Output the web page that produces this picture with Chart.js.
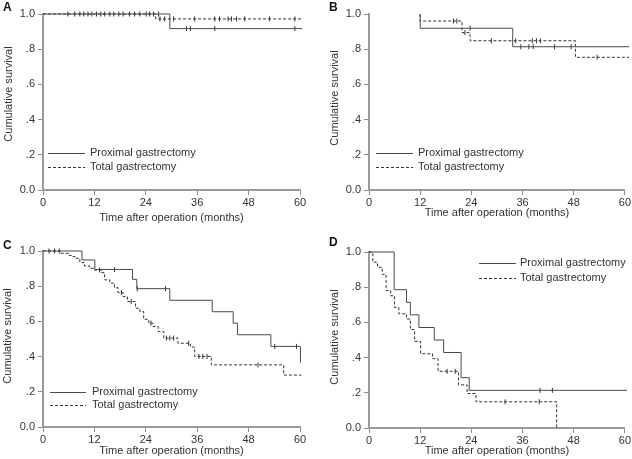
<!DOCTYPE html>
<html>
<head>
<meta charset="utf-8">
<script src="https://cdn.jsdelivr.net/npm/chart.js@4.4.1/dist/chart.umd.min.js"></script>
<style>
  html, body { margin: 0; padding: 0; background: #fff; }
  #wrap { position: relative; width: 632px; height: 459px; overflow: hidden; }
  canvas { position: absolute; }
</style>
</head>
<body>
<div id="wrap">
  <canvas id="cA" width="316" height="230" style="left:0;top:0"></canvas>
  <canvas id="cB" width="316" height="230" style="left:316px;top:0"></canvas>
  <canvas id="cC" width="316" height="229" style="left:0;top:230px"></canvas>
  <canvas id="cD" width="316" height="229" style="left:316px;top:230px"></canvas>
</div>
<script>
// Akselit ja selitteet
const seriesNames = ['Proximal gastrectomy', 'Total gastrectomy'];
const xTitle = 'Time after operation (months)';
const yTitle = 'Cumulative survival';
const xTickValues = [0, 12, 24, 36, 48, 60];
const yTickValues = [0, 0.2, 0.4, 0.6, 0.8, 1.0];
const yTickLabels = ['0.0', '.2', '.4', '.6', '.8', '1.0'];

// Paneeli A
const aProxTime = [0, 29.6, 60.5];
const aProxSurv = [1, 0.917, 0.917];
const aProxCensor = [27.0, 33.5, 34.4, 40.1, 58.8];
const aTotTime = [0, 26.3, 60.5];
const aTotSurv = [1, 0.972, 0.972];
const aTotCensor = [5.8, 7.4, 8.6, 9.5, 10.5, 11.4, 12.5, 13.5, 14.4, 15.6, 16.5, 17.7, 18.7, 20.2, 21.4, 22.6, 24.1, 24.9, 25.8,
  27.3, 28.4, 30.5, 35.4, 40.1, 41.2, 43.2, 44.0, 45.2, 47.1, 52.9, 58.8];

// Paneeli B
const bProxTime = [12, 12, 33.7, 61];
const bProxSurv = [1, 0.919, 0.814, 0.814];
const bProxCensor = [23.7, 35.6, 37.5, 38.5, 43.5, 47.4];
const bTotTime = [12, 12, 21.8, 23.7, 48.4, 61];
const bTotSurv = [1, 0.96, 0.894, 0.848, 0.754, 0.754];
const bTotCensor = [19.8, 20.6, 22.5, 28.7, 34.4, 38.3, 39.3, 40.2, 53.5];

// Paneeli C
const cProxTime = [0, 9.1, 12.1, 20.9, 21.9, 29.6, 39.5, 44.4, 45.4, 53.2, 60.1, 60.7];
const cProxSurv = [1, 0.949, 0.895, 0.839, 0.786, 0.72, 0.655, 0.59, 0.524, 0.458, 0.366, 0.366];
const cProxCensor = [16.7, 22.0, 28.6, 54.1, 59.2];
const cTotTime = [0, 4.1, 6.1, 7.0, 7.8, 8.6, 9.7, 10.9, 11.9, 13.6, 14.4, 15.6, 16.7, 17.5, 18.7, 19.7,
  21.6, 22.6, 23.5, 24.7, 25.7, 26.9, 28.2, 31.5, 34.4, 35.4, 39.3, 56.2, 60.3];
const cTotSurv = [1, 0.987, 0.975, 0.968, 0.958, 0.934, 0.915, 0.902, 0.892, 0.877, 0.836, 0.817, 0.792, 0.764, 0.741, 0.713,
  0.675, 0.656, 0.612, 0.590, 0.571, 0.542, 0.505, 0.476, 0.454, 0.401, 0.353, 0.295, 0.295];
const cTotCensor = [1.4, 2.7, 3.8, 13.2, 18.3, 20.6, 25.2, 28.8, 29.6, 30.5, 34.0, 36.4, 37.3, 38.3, 50.2];

// Paneeli D
const dProxTime = [0, 5.9, 8.8, 9.7, 11.7, 15.3, 17.5, 21.6, 23.5, 60.5];
const dProxSurv = [1, 0.786, 0.714, 0.643, 0.571, 0.5, 0.429, 0.286, 0.214, 0.214];
const dProxCensor = [40.1, 43.0];
const dTotTime = [0, 0.9, 2.0, 3.1, 4.0, 5.1, 6.0, 7.0, 8.8, 9.7, 10.7, 12.1, 14.9, 16.2, 21.0, 23.0, 25.1, 44.0];
const dTotSurv = [1, 0.942, 0.913, 0.873, 0.781, 0.751, 0.685, 0.649, 0.619, 0.559, 0.492, 0.422, 0.394, 0.322, 0.245, 0.196, 0.149, 0];
const dTotCensor = [18.3, 20.2, 31.9, 39.9];

const fontFam = '"Liberation Sans", Arial, Helvetica, sans-serif';
Chart.defaults.font.family = fontFam;
Chart.defaults.font.size = 11;
Chart.defaults.color = '#333';

const lineStyles = [
  { color: '#4a4a4a', dash: [] },
  { color: '#333333', dash: [3, 2] }
];

// Haetaan käyrän arvo sensurointihetkellä
function survAt(times, surv, t) {
  let s = surv[0];
  for (let i = 0; i < times.length; i++) {
    if (times[i] <= t) s = surv[i];
  }
  return s;
}

// Paneelin kirjain, y-akselin otsikko ja selite
const panelDecor = {
  id: 'panelDecor',
  afterDraw(chart, args, o) {
    const ctx = chart.ctx;
    ctx.save();
    ctx.fillStyle = '#111';
    ctx.font = 'bold 12px ' + fontFam;
    ctx.textBaseline = 'top';
    ctx.textAlign = 'left';
    ctx.fillText(o.letter, o.letterX, o.letterY);

    ctx.fillStyle = '#333';
    ctx.font = '11px ' + fontFam;
    ctx.save();
    ctx.translate(o.yTitleX, o.yTitleY);
    ctx.rotate(-Math.PI / 2);
    ctx.textAlign = 'center';
    ctx.textBaseline = 'middle';
    ctx.fillText(yTitle, 0, 0);
    ctx.restore();

    ctx.textBaseline = 'middle';
    seriesNames.forEach((name, i) => {
      const y = o.legY[i];
      ctx.strokeStyle = lineStyles[i].color;
      ctx.lineWidth = 1;
      ctx.setLineDash(lineStyles[i].dash);
      ctx.beginPath();
      ctx.moveTo(o.legX0, y + 0.5);
      ctx.lineTo(o.legX1, y + 0.5);
      ctx.stroke();
      ctx.setLineDash([]);
      ctx.fillStyle = '#333';
      ctx.fillText(name, o.legTextX, y);
    });
    ctx.restore();
  }
};

function makePanel(id, curves, p) {
  const canvas = document.getElementById(id);
  const W = canvas.width, H = canvas.height;
  const datasets = [];
  curves.forEach((c, i) => {
    const st = lineStyles[i];
    datasets.push({
      label: seriesNames[i],
      data: c.time.map((t, k) => ({ x: t, y: c.surv[k] })),
      stepped: true,
      borderColor: st.color,
      borderWidth: 1,
      borderDash: st.dash,
      pointRadius: 0,
      fill: false,
      clip: false
    });
    datasets.push({
      label: seriesNames[i] + ' censored',
      data: c.censor.map(t => ({ x: t, y: survAt(c.time, c.surv, t) })),
      showLine: false,
      pointStyle: 'line',
      pointRotation: 90,
      pointRadius: 2.5,
      pointBorderColor: '#333',
      pointBorderWidth: 1,
      clip: false
    });
  });

  return new Chart(canvas, {
    type: 'line',
    data: { datasets },
    plugins: [panelDecor],
    options: {
      responsive: false,
      animation: false,
      events: [],
      layout: { padding: { left: 0, top: p.top, right: W - p.right, bottom: 0 } },
      plugins: {
        legend: { display: false },
        tooltip: { enabled: false },
        panelDecor: p.decor
      },
      scales: {
        x: {
          type: 'linear',
          min: 0,
          max: 60,
          afterBuildTicks: s => { s.ticks = xTickValues.map(v => ({ value: v })); },
          afterFit: s => { s.height = H - p.bottom; },
          grid: { drawOnChartArea: false, drawTicks: true, tickLength: 5, color: '#8c8c8c' },
          border: { display: true, color: '#9a9a9a', width: 2 },
          ticks: { color: '#333', padding: 1, maxRotation: 0, autoSkip: false },
          title: { display: true, text: xTitle, color: '#333', padding: { top: 0, bottom: p.xTitlePad } }
        },
        y: {
          type: 'linear',
          min: 0,
          max: 1,
          afterBuildTicks: s => { s.ticks = yTickValues.map(v => ({ value: v })); },
          afterFit: s => { s.width = p.left; },
          grid: { drawOnChartArea: false, drawTicks: true, tickLength: 5, color: '#8c8c8c' },
          border: { display: true, color: '#9a9a9a', width: 2 },
          ticks: { color: '#333', padding: 3, callback: (v, i) => yTickLabels[i] }
        }
      }
    }
  });
}

makePanel('cA', [
  { time: aProxTime, surv: aProxSurv, censor: aProxCensor },
  { time: aTotTime, surv: aTotSurv, censor: aTotCensor }
], { left: 43, right: 300, top: 14, bottom: 190, xTitlePad: 5,
  decor: { letter: 'A', letterX: 3, letterY: 2, yTitleX: 9, yTitleY: 94,
    legX0: 48, legX1: 85, legTextX: 90, legY: [153, 167] } });

makePanel('cB', [
  { time: bProxTime, surv: bProxSurv, censor: bProxCensor },
  { time: bTotTime, surv: bTotSurv, censor: bTotCensor }
], { left: 53, right: 310, top: 14, bottom: 190, xTitlePad: 10,
  decor: { letter: 'B', letterX: 13, letterY: 2, yTitleX: 19, yTitleY: 98,
    legX0: 60, legX1: 97, legTextX: 102, legY: [153, 167] } });

makePanel('cC', [
  { time: cProxTime, surv: cProxSurv, censor: cProxCensor },
  { time: cTotTime, surv: cTotSurv, censor: cTotCensor }
], { left: 43, right: 300, top: 21, bottom: 197, xTitlePad: 1.5,
  decor: { letter: 'C', letterX: 3, letterY: 10, yTitleX: 8, yTitleY: 106,
    legX0: 50, legX1: 86, legTextX: 92, legY: [162, 175] } });

makePanel('cD', [
  { time: dProxTime, surv: dProxSurv, censor: dProxCensor },
  { time: dTotTime, surv: dTotSurv, censor: dTotCensor }
], { left: 53, right: 310, top: 22, bottom: 198, xTitlePad: 1,
  decor: { letter: 'D', letterX: 13, letterY: 7, yTitleX: 19, yTitleY: 107,
    legX0: 163, legX1: 200, legTextX: 204, legY: [33, 48] } });
</script>
</body>
</html>
